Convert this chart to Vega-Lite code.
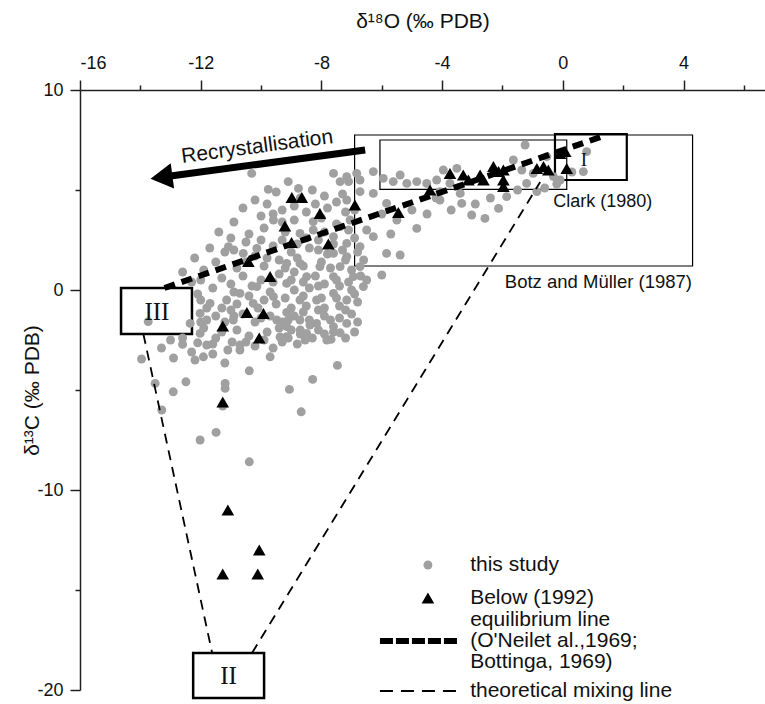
{
  "$schema": "https://vega.github.io/schema/vega-lite/v6.json",
  "width": 685,
  "height": 600,
  "autosize": "none",
  "padding": {"left": 80, "top": 90, "right": 0, "bottom": 14},
  "background": "white",
  "config": {
    "view": {"stroke": null},
    "font": "Liberation Sans",
    "axis": {"grid": false, "domainColor": "#222", "tickColor": "#222", "domainWidth": 1.5, "tickWidth": 1.5, "labelColor": "#111", "titleColor": "#111", "labelFontSize": 18, "titleFontSize": 21, "titleFontWeight": "normal", "labelFont": "Liberation Sans", "titleFont": "Liberation Sans"}
  },
  "datasets": {
    "circles": [
      {"o": -13.96, "c": -3.45}, {"o": -13.51, "c": -4.67}, {"o": -13.29, "c": -6.0}, {"o": -12.91, "c": -5.09}, {"o": -12.49, "c": -4.59},
      {"o": -12.02, "c": -7.5}, {"o": -11.49, "c": -7.12}, {"o": -11.19, "c": -4.67}, {"o": -11.19, "c": -4.92}, {"o": -10.39, "c": -8.59},
      {"o": -10.39, "c": -4.04}, {"o": -9.7, "c": -3.34}, {"o": -9.06, "c": -4.97}, {"o": -8.67, "c": -6.09}, {"o": -8.29, "c": -4.47},
      {"o": -7.47, "c": -3.77}, {"o": -7.68, "c": -2.47}, {"o": -7.38, "c": -2.14}, {"o": -12.19, "c": -3.5}, {"o": -11.91, "c": -3.34},
      {"o": -12.6, "c": -2.72}, {"o": -12.1, "c": -2.64}, {"o": -11.8, "c": -2.75}, {"o": -11.2, "c": -3.65}, {"o": -11.1, "c": -3.0},
      {"o": -10.96, "c": -2.6}, {"o": -11.5, "c": -2.4}, {"o": -10.7, "c": -2.75}, {"o": -9.37, "c": -2.35}, {"o": -8.7, "c": -2.0},
      {"o": -8.38, "c": -1.75}, {"o": -8.54, "c": -2.5}, {"o": -9.15, "c": -1.12}, {"o": -11.27, "c": -5.8}, {"o": -13.74, "c": -1.58},
      {"o": -10.31, "c": 5.83}, {"o": -9.1, "c": 5.42}, {"o": -9.76, "c": 5.03}, {"o": -8.76, "c": 5.08}, {"o": -7.6, "c": 5.83},
      {"o": -7.38, "c": 5.42}, {"o": -7.1, "c": 5.42}, {"o": -9.59, "c": 3.5}, {"o": -8.27, "c": 3.42}, {"o": -11.08, "c": 2.17},
      {"o": -10.14, "c": 2.08}, {"o": -10.59, "c": 1.83}, {"o": -8.71, "c": 2.83}, {"o": -8.27, "c": 3.0}, {"o": -7.6, "c": 2.67},
      {"o": -7.38, "c": 3.17}, {"o": -8.1, "c": 2.0}, {"o": -7.6, "c": 1.83}, {"o": -9.15, "c": 1.33}, {"o": -8.71, "c": 1.33},
      {"o": -8.05, "c": 1.17}, {"o": -7.38, "c": 1.17}, {"o": -8.49, "c": 0.67}, {"o": -7.6, "c": 0.67}, {"o": -9.15, "c": 0.33},
      {"o": -10.14, "c": 0.17}, {"o": -10.7, "c": -0.17}, {"o": -11.14, "c": -0.5}, {"o": -11.69, "c": -0.67}, {"o": -10.26, "c": -0.67},
      {"o": -9.59, "c": -0.33}, {"o": -8.71, "c": -0.5}, {"o": -8.16, "c": -0.5}, {"o": -7.6, "c": -0.17}, {"o": -7.16, "c": -0.5},
      {"o": -12.02, "c": -1.17}, {"o": -12.35, "c": -1.67}, {"o": -11.8, "c": -1.5}, {"o": -10.92, "c": -1.5}, {"o": -9.48, "c": -1.5},
      {"o": -9.15, "c": -1.83}, {"o": -8.71, "c": -1.5}, {"o": -8.16, "c": -1.67}, {"o": -7.6, "c": -1.83}, {"o": -7.16, "c": -1.67},
      {"o": -12.02, "c": -2.17}, {"o": -9.15, "c": -2.33}, {"o": -8.49, "c": -2.17}, {"o": -7.82, "c": -2.5},
      {"o": -9.5, "c": 4.9}, {"o": -8.3, "c": 5.0}, {"o": -7.9, "c": 4.7}, {"o": -8.9, "c": 4.2}, {"o": -7.5, "c": 4.4},
      {"o": -9.3, "c": 4.0}, {"o": -8.5, "c": 3.9}, {"o": -7.2, "c": 3.9}, {"o": -10.0, "c": 3.7}, {"o": -8.9, "c": 3.5},
      {"o": -8.0, "c": 3.6}, {"o": -7.5, "c": 3.3}, {"o": -9.9, "c": 3.1}, {"o": -9.2, "c": 2.9}, {"o": -8.5, "c": 2.6},
      {"o": -7.9, "c": 2.9}, {"o": -7.1, "c": 3.0}, {"o": -10.4, "c": 2.8}, {"o": -11.0, "c": 2.6}, {"o": -10.9, "c": 2.0},
      {"o": -10.2, "c": 1.7}, {"o": -9.6, "c": 2.2}, {"o": -9.0, "c": 1.9}, {"o": -8.4, "c": 2.1}, {"o": -7.8, "c": 1.8},
      {"o": -7.3, "c": 2.0}, {"o": -11.5, "c": 1.4}, {"o": -11.9, "c": 1.0}, {"o": -10.8, "c": 1.1}, {"o": -9.9, "c": 1.2},
      {"o": -9.4, "c": 1.5}, {"o": -8.8, "c": 1.6}, {"o": -8.0, "c": 1.4}, {"o": -7.2, "c": 1.5}, {"o": -12.3, "c": 0.4},
      {"o": -11.3, "c": 0.6}, {"o": -10.6, "c": 0.7}, {"o": -10.0, "c": 0.5}, {"o": -9.4, "c": 0.8}, {"o": -8.9, "c": 0.9},
      {"o": -8.2, "c": 0.7}, {"o": -7.9, "c": 0.3}, {"o": -7.4, "c": 0.2}, {"o": -11.6, "c": 0.1}, {"o": -10.9, "c": -0.1},
      {"o": -9.7, "c": -0.1}, {"o": -8.9, "c": 0.0}, {"o": -8.4, "c": 0.1}, {"o": -7.0, "c": 0.0}, {"o": -12.0, "c": -0.5},
      {"o": -11.3, "c": -0.9}, {"o": -10.8, "c": -0.7}, {"o": -10.1, "c": -0.9}, {"o": -9.5, "c": -0.7}, {"o": -9.0, "c": -0.9},
      {"o": -8.5, "c": -0.8}, {"o": -7.9, "c": -0.9}, {"o": -7.4, "c": -0.8}, {"o": -6.8, "c": -0.6}, {"o": -11.5, "c": -1.3},
      {"o": -10.6, "c": -1.2}, {"o": -10.2, "c": -1.6}, {"o": -9.7, "c": -1.3}, {"o": -9.3, "c": -1.6}, {"o": -8.9, "c": -1.3},
      {"o": -8.4, "c": -1.5}, {"o": -7.9, "c": -1.3}, {"o": -7.4, "c": -1.4}, {"o": -7.0, "c": -1.2}, {"o": -11.9, "c": -1.9},
      {"o": -11.3, "c": -2.1}, {"o": -10.8, "c": -2.0}, {"o": -10.4, "c": -2.3}, {"o": -9.8, "c": -2.1}, {"o": -9.4, "c": -1.9},
      {"o": -9.0, "c": -2.0}, {"o": -8.7, "c": -2.2}, {"o": -8.1, "c": -2.0}, {"o": -7.6, "c": -2.1}, {"o": -12.3, "c": -3.1},
      {"o": -11.6, "c": -3.2}, {"o": -10.7, "c": -3.0}, {"o": -10.2, "c": -2.8}, {"o": -9.6, "c": -2.9}, {"o": -9.3, "c": -2.6},
      {"o": -8.8, "c": -2.7},
      {"o": -12.6, "c": 0.9}, {"o": -12.2, "c": 1.6}, {"o": -11.7, "c": 2.1}, {"o": -11.4, "c": 2.9}, {"o": -10.9, "c": 3.4},
      {"o": -10.6, "c": 4.1}, {"o": -10.2, "c": 4.5}, {"o": -9.8, "c": 4.3}, {"o": -9.6, "c": 3.8}, {"o": -9.3, "c": 3.4},
      {"o": -8.7, "c": 4.6}, {"o": -8.2, "c": 4.3}, {"o": -7.8, "c": 4.1}, {"o": -7.3, "c": 4.8}, {"o": -6.9, "c": 4.0},
      {"o": -10.5, "c": 2.4}, {"o": -10.0, "c": 2.5}, {"o": -9.3, "c": 2.5}, {"o": -8.8, "c": 2.3}, {"o": -8.1, "c": 2.5},
      {"o": -7.6, "c": 2.3}, {"o": -6.9, "c": 2.6}, {"o": -6.8, "c": 1.9}, {"o": -11.2, "c": 1.9}, {"o": -10.5, "c": 1.4},
      {"o": -9.8, "c": 1.6}, {"o": -9.2, "c": 1.1}, {"o": -8.6, "c": 1.2}, {"o": -7.7, "c": 1.1}, {"o": -7.0, "c": 1.0},
      {"o": -6.6, "c": 1.5}, {"o": -12.0, "c": 0.5}, {"o": -11.0, "c": 0.3}, {"o": -10.3, "c": 0.2}, {"o": -9.6, "c": 0.4},
      {"o": -9.0, "c": 0.5}, {"o": -8.6, "c": 0.4}, {"o": -8.1, "c": 0.2}, {"o": -7.5, "c": 0.5}, {"o": -7.1, "c": 0.4},
      {"o": -6.7, "c": 0.7}, {"o": -12.1, "c": -0.2}, {"o": -11.8, "c": -0.9}, {"o": -11.0, "c": -1.0}, {"o": -10.4, "c": -0.3},
      {"o": -9.9, "c": -0.5}, {"o": -9.2, "c": -0.4}, {"o": -8.6, "c": -0.3}, {"o": -8.0, "c": -0.4}, {"o": -7.5, "c": -0.4},
      {"o": -6.9, "c": -0.2}, {"o": -12.0, "c": -1.6}, {"o": -11.2, "c": -1.6}, {"o": -10.9, "c": -1.3}, {"o": -10.0, "c": -1.4},
      {"o": -9.1, "c": -1.5}, {"o": -8.6, "c": -1.1}, {"o": -8.1, "c": -1.0}, {"o": -7.7, "c": -1.5}, {"o": -7.2, "c": -1.0},
      {"o": -6.8, "c": -1.6}, {"o": -12.6, "c": -2.4}, {"o": -11.6, "c": -2.7}, {"o": -10.5, "c": -2.6}, {"o": -9.9, "c": -2.5},
      {"o": -9.1, "c": -2.4}, {"o": -8.3, "c": -2.4}, {"o": -7.9, "c": -2.2}, {"o": -7.2, "c": -2.4}, {"o": -6.9, "c": -2.1},
      {"o": -13.0, "c": -2.5}, {"o": -13.3, "c": -2.9}, {"o": -12.9, "c": -3.4},
      {"o": -7.16, "c": 5.67}, {"o": -6.72, "c": 5.5}, {"o": -6.28, "c": 5.92}, {"o": -5.95, "c": 5.58}, {"o": -5.62, "c": 5.42},
      {"o": -5.39, "c": 5.75}, {"o": -5.17, "c": 5.33}, {"o": -4.84, "c": 5.42}, {"o": -4.51, "c": 5.33}, {"o": -4.18, "c": 5.5},
      {"o": -3.96, "c": 6.0}, {"o": -4.07, "c": 4.92}, {"o": -3.74, "c": 5.33}, {"o": -3.51, "c": 6.08}, {"o": -4.07, "c": 4.5},
      {"o": -3.4, "c": 4.83}, {"o": -3.35, "c": 4.33}, {"o": -3.02, "c": 3.75}, {"o": -2.58, "c": 3.58}, {"o": -2.13, "c": 4.08},
      {"o": -1.86, "c": 4.67}, {"o": -1.64, "c": 6.5}, {"o": -1.25, "c": 7.25}, {"o": -1.36, "c": 6.0}, {"o": -1.2, "c": 5.33},
      {"o": -0.98, "c": 5.83}, {"o": -0.86, "c": 4.92}, {"o": -0.53, "c": 6.67}, {"o": -0.31, "c": 5.67}, {"o": -0.09, "c": 5.5},
      {"o": 0.68, "c": 5.92}, {"o": 0.79, "c": 6.92}, {"o": -4.84, "c": 3.08}, {"o": -5.84, "c": 4.33}, {"o": -6.28, "c": 4.83},
      {"o": -6.72, "c": 4.92}, {"o": -7.16, "c": 4.5}, {"o": -7.05, "c": 3.5}, {"o": -6.5, "c": 3.0}, {"o": -7.16, "c": 2.33},
      {"o": -6.72, "c": 2.17}, {"o": -6.28, "c": 2.67}, {"o": -5.84, "c": 1.83}, {"o": -5.39, "c": 1.75}, {"o": -7.16, "c": 1.67},
      {"o": -6.72, "c": 1.17}, {"o": -6.0, "c": 0.75}, {"o": -6.5, "c": 0.5}, {"o": -6.94, "c": 0.67}, {"o": -6.61, "c": 0.17},
      {"o": -6.83, "c": 5.83}, {"o": -5.5, "c": 3.5}, {"o": -5.0, "c": 4.0}, {"o": -4.5, "c": 3.8}, {"o": -6.0, "c": 3.8},
      {"o": -5.7, "c": 2.8}, {"o": -4.2, "c": 4.6}, {"o": -3.7, "c": 4.0}, {"o": -2.9, "c": 4.3}, {"o": -2.4, "c": 4.6},
      {"o": -1.5, "c": 5.0}, {"o": -0.6, "c": 5.1}, {"o": -0.2, "c": 5.3}, {"o": 0.3, "c": 5.9}
    ],
    "triangles": [
      {"o": -8.98, "c": 4.63}, {"o": -8.65, "c": 4.63}, {"o": -8.05, "c": 3.83}, {"o": -9.21, "c": 3.2}, {"o": -8.99, "c": 2.37},
      {"o": -7.77, "c": 2.3}, {"o": -10.42, "c": 1.42}, {"o": -9.7, "c": 0.67}, {"o": -10.47, "c": -1.13}, {"o": -9.92, "c": -1.17},
      {"o": -11.27, "c": -1.8}, {"o": -10.06, "c": -2.4}, {"o": -11.27, "c": -5.6}, {"o": -11.1, "c": -11.0}, {"o": -10.06, "c": -13.0},
      {"o": -11.27, "c": -14.2}, {"o": -10.11, "c": -14.2},
      {"o": -6.89, "c": 4.25}, {"o": -5.45, "c": 3.87}, {"o": -4.4, "c": 5.0}, {"o": -3.74, "c": 5.83}, {"o": -3.3, "c": 5.75},
      {"o": -3.13, "c": 5.5}, {"o": -2.74, "c": 5.75}, {"o": -2.63, "c": 5.5}, {"o": -2.3, "c": 6.17}, {"o": -2.13, "c": 5.92},
      {"o": -1.97, "c": 6.0}, {"o": -1.97, "c": 5.5}, {"o": -1.97, "c": 5.17}, {"o": -0.86, "c": 6.08}, {"o": -0.64, "c": 6.17},
      {"o": -0.48, "c": 6.0}, {"o": -0.09, "c": 6.83}, {"o": 0.08, "c": 6.92}, {"o": 0.13, "c": 6.08}
    ],
    "boxesThin": [
      {"name": "Botz", "x1": -6.9, "x2": 4.3, "y1": 1.2, "y2": 7.75},
      {"name": "Clark", "x1": -6.06, "x2": 0.13, "y1": 5.03, "y2": 7.5}
    ],
    "boxI": [{"name": "I", "x1": -0.26, "x2": 2.12, "y1": 5.5, "y2": 7.8}],
    "boxesWhite": [
      {"name": "III", "x1": -14.64, "x2": -12.29, "y1": -2.2, "y2": 0.1},
      {"name": "II", "x1": -12.25, "x2": -9.9, "y1": -20.4, "y2": -18.15}
    ],
    "eqLine": [{"o": -13.2, "c": 0.1}, {"o": 1.35, "c": 7.7}],
    "mixLines": [
      {"seg": "left", "o": -13.9, "c": -2.2}, {"seg": "left", "o": -11.62, "c": -18.15},
      {"seg": "right", "o": -10.3, "c": -18.15}, {"seg": "right", "o": -0.75, "c": 5.4}
    ],
    "arrowLine": [{"o": -6.55, "c": 7.0}, {"o": -13.0, "c": 5.7}],
    "arrowHead": [{"o": -13.3, "c": 5.63}],
    "sansLabels": [{"o": -0.32, "c": 4.4, "t": "Clark (1980)"}],
    "sansLabelsRight": [{"o": 4.28, "c": 0.4, "t": "Botz and Müller (1987)"}],
    "arrowLabel": [{"o": -10.13, "c": 7.15, "t": "Recrystallisation"}],
    "romanLabels": [
      {"o": -13.45, "c": -1.1, "t": "III"},
      {"o": -11.08, "c": -19.3, "t": "II"}
    ],
    "romanSmall": [{"o": 0.7, "c": 6.5, "t": "I"}],
    "legCircle": [{"o": -4.47, "c": -13.75}],
    "legTriangle": [{"o": -4.47, "c": -15.4}],
    "legThick": [{"o": -6.06, "c": -17.55}, {"o": -3.47, "c": -17.55}],
    "legThin": [{"o": -6.06, "c": -20.05}, {"o": -3.47, "c": -20.05}],
    "legText": [
      {"o": -3.07, "c": -13.75, "t": "this study"},
      {"o": -3.07, "c": -15.4, "t": "Below (1992)"},
      {"o": -3.07, "c": -16.5, "t": "equilibrium line"},
      {"o": -3.07, "c": -17.55, "t": "(O'Neilet al.,1969;"},
      {"o": -3.07, "c": -18.6, "t": "Bottinga, 1969)"},
      {"o": -3.07, "c": -20.05, "t": "theoretical mixing line"}
    ]
  },
  "encoding": {
    "x": {"field": "o", "type": "quantitative", "scale": {"domain": [-16, 6.7], "nice": false, "zero": false},
      "axis": {"orient": "top", "title": "δ¹⁸O (‰ PDB)", "values": [-16, -14, -12, -10, -8, -6, -4, -2, 0, 2, 4, 6],
        "labelExpr": "datum.value % 4 === 0 ? '' + datum.value : ''",
        "tickSize": {"condition": {"test": "datum.value % 4 === 0", "value": 10}, "value": 5},
        "labelPadding": 8, "titlePadding": 23}},
    "y": {"field": "c", "type": "quantitative", "scale": {"domain": [-20, 10], "nice": false, "zero": false},
      "axis": {"title": "δ¹³C (‰ PDB)", "values": [-20, -15, -10, -5, 0, 5, 10],
        "labelExpr": "datum.value % 10 === 0 ? '' + datum.value : ''",
        "tickSize": {"condition": {"test": "datum.value % 10 === 0", "value": 10}, "value": 5},
        "labelPadding": 7, "titlePadding": -6}}
  },
  "layer": [
    {"data": {"name": "boxesWhite"}, "mark": {"type": "rect", "fill": "white", "stroke": "black", "strokeWidth": 2.5},
      "encoding": {"x": {"field": "x1", "type": "quantitative"}, "x2": {"field": "x2"}, "y": {"field": "y1", "type": "quantitative"}, "y2": {"field": "y2"}}},
    {"data": {"name": "boxesThin"}, "mark": {"type": "rect", "fillOpacity": 0, "fill": "white", "stroke": "black", "strokeWidth": 1.2},
      "encoding": {"x": {"field": "x1", "type": "quantitative"}, "x2": {"field": "x2"}, "y": {"field": "y1", "type": "quantitative"}, "y2": {"field": "y2"}}},
    {"data": {"name": "boxI"}, "mark": {"type": "rect", "fillOpacity": 0, "fill": "white", "stroke": "black", "strokeWidth": 2.2},
      "encoding": {"x": {"field": "x1", "type": "quantitative"}, "x2": {"field": "x2"}, "y": {"field": "y1", "type": "quantitative"}, "y2": {"field": "y2"}}},
    {"data": {"name": "circles"}, "mark": {"type": "circle", "color": "#a0a0a0", "opacity": 1, "size": 80}},
    {"data": {"name": "triangles"}, "mark": {"type": "point", "shape": "triangle-up", "filled": true, "color": "black", "opacity": 1, "size": 160}},
    {"data": {"name": "eqLine"}, "mark": {"type": "line", "color": "black", "strokeWidth": 6, "strokeDash": [11, 7], "strokeCap": "butt"}},
    {"data": {"name": "mixLines"}, "mark": {"type": "line", "color": "black", "strokeWidth": 1.8, "strokeDash": [10, 7], "strokeCap": "butt"},
      "encoding": {"detail": {"field": "seg"}}},
    {"data": {"name": "arrowLine"}, "mark": {"type": "line", "color": "black", "strokeWidth": 7, "strokeCap": "butt"}},
    {"data": {"name": "arrowHead"}, "mark": {"type": "point", "shape": "triangle-left", "filled": true, "color": "black", "opacity": 1, "size": 650, "angle": 352.4}},
    {"data": {"name": "sansLabels"}, "mark": {"type": "text", "align": "left", "baseline": "middle", "fontSize": 18, "font": "Liberation Sans", "color": "#111"},
      "encoding": {"text": {"field": "t"}}},
    {"data": {"name": "sansLabelsRight"}, "mark": {"type": "text", "align": "right", "baseline": "middle", "fontSize": 18.5, "font": "Liberation Sans", "color": "#111"},
      "encoding": {"text": {"field": "t"}}},
    {"data": {"name": "arrowLabel"}, "mark": {"type": "text", "align": "center", "baseline": "middle", "fontSize": 21, "angle": 352.4, "font": "Liberation Sans", "color": "#111"},
      "encoding": {"text": {"field": "t"}}},
    {"data": {"name": "romanLabels"}, "mark": {"type": "text", "align": "center", "baseline": "middle", "fontSize": 25, "font": "Liberation Serif", "color": "#111"},
      "encoding": {"text": {"field": "t"}}},
    {"data": {"name": "romanSmall"}, "mark": {"type": "text", "align": "center", "baseline": "middle", "fontSize": 19, "font": "Liberation Serif", "color": "#111"},
      "encoding": {"text": {"field": "t"}}},
    {"data": {"name": "legCircle"}, "mark": {"type": "circle", "color": "#a0a0a0", "opacity": 1, "size": 80}},
    {"data": {"name": "legTriangle"}, "mark": {"type": "point", "shape": "triangle-up", "filled": true, "color": "black", "opacity": 1, "size": 160}},
    {"data": {"name": "legThick"}, "mark": {"type": "line", "color": "black", "strokeWidth": 6, "strokeDash": [13, 3], "strokeCap": "butt"}},
    {"data": {"name": "legThin"}, "mark": {"type": "line", "color": "black", "strokeWidth": 1.8, "strokeDash": [13, 8], "strokeCap": "butt"}},
    {"data": {"name": "legText"}, "mark": {"type": "text", "align": "left", "baseline": "middle", "fontSize": 21, "font": "Liberation Sans", "color": "#111"},
      "encoding": {"text": {"field": "t"}}}
  ]
}
